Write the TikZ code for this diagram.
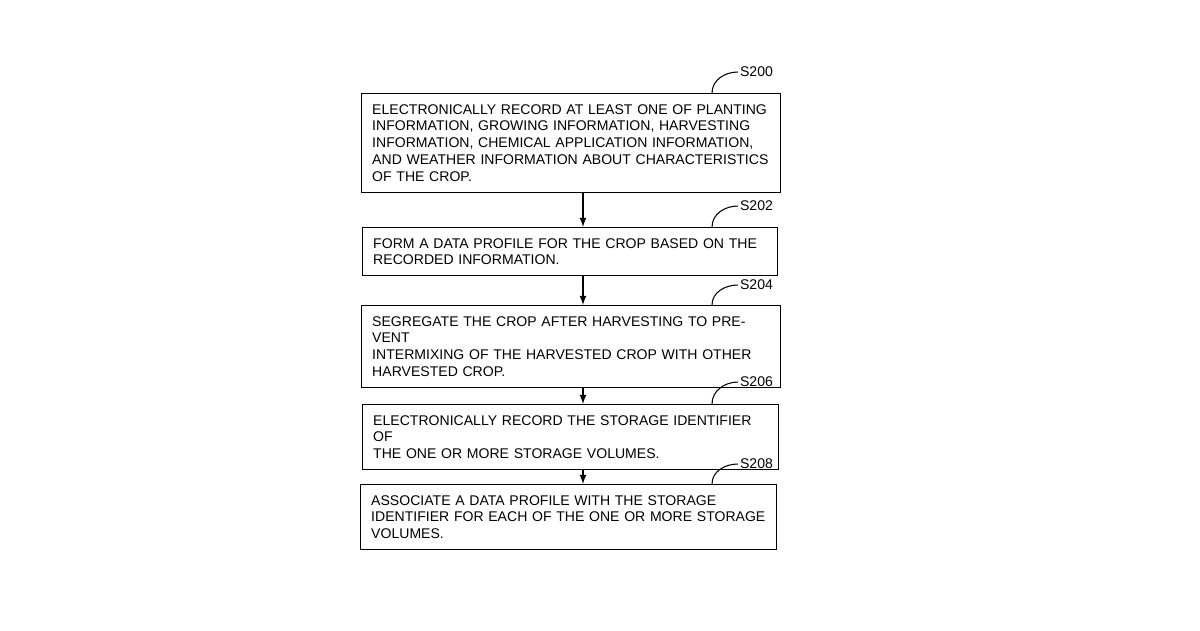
\documentclass[tikz,border=0pt]{standalone}
\usepackage{fontspec}
\setmainfont{Liberation Sans}
\usetikzlibrary{calc}
\begin{document}
\begin{tikzpicture}[x=0.02cm,y=-0.02cm]
	    \tikzstyle{stepbox}=[draw, line width=.8pt, anchor=north west, align=left, inner sep=6pt, font=\fontsize{8}{9.6}\selectfont]
	    \tikzstyle{flow}=[draw, line width=.8pt, -latex]
	    \tikzstyle{tag}=[anchor=west, inner sep=1pt, font=\fontsize{8}{9.6}\selectfont]
	    \tikzstyle{lead}=[draw, line width=.6pt]
	    \useasboundingbox (0,0) rectangle (1200,630);
	    \node[stepbox, minimum width=419*0.02cm, minimum height=94*0.02cm, text width=419*0.02cm-12pt] (s200) at (361,93) {ELECTRONICALLY RECORD AT LEAST ONE OF PLANTING\\INFORMATION, GROWING INFORMATION, HARVESTING\\INFORMATION, CHEMICAL APPLICATION INFORMATION,\\AND WEATHER INFORMATION ABOUT CHARACTERISTICS\\OF THE CROP.};
	    \node[stepbox, minimum width=415*0.02cm, minimum height=41*0.02cm, text width=415*0.02cm-12pt] (s202) at (362,227) {FORM A DATA PROFILE FOR THE CROP BASED ON THE\\RECORDED INFORMATION.};
	    \node[stepbox, minimum width=419*0.02cm, minimum height=64*0.02cm, text width=419*0.02cm-12pt] (s204) at (361,305) {SEGREGATE THE CROP AFTER HARVESTING TO PREVENT\\INTERMIXING OF THE HARVESTED CROP WITH OTHER\\HARVESTED CROP.};
	    \node[stepbox, minimum width=416*0.02cm, minimum height=41*0.02cm, text width=416*0.02cm-12pt] (s206) at (362,404) {ELECTRONICALLY RECORD THE STORAGE IDENTIFIER OF\\THE ONE OR MORE STORAGE VOLUMES.};
	    \node[stepbox, minimum width=416*0.02cm, minimum height=57*0.02cm, text width=416*0.02cm-12pt] (s208) at (360,484) {ASSOCIATE A DATA PROFILE WITH THE STORAGE\\IDENTIFIER FOR EACH OF THE ONE OR MORE STORAGE\\VOLUMES.};
	    \node[tag] (t200) at (738,72) {S200};
	    \node[tag] (t202) at (738,206) {S202};
	    \node[tag] (t204) at (738,285) {S204};
	    \node[tag] (t206) at (738,382) {S206};
	    \node[tag] (t208) at (738,464) {S208};
	    \draw[lead] (t200.west) to[out=180,in=90] (s200.north -| 712,0);
	    \draw[lead] (t202.west) to[out=180,in=90] (s202.north -| 712,0);
	    \draw[lead] (t204.west) to[out=180,in=90] (s204.north -| 712,0);
	    \draw[lead] (t206.west) to[out=180,in=90] (s206.north -| 712,0);
	    \draw[lead] (t208.west) to[out=180,in=90] (s208.north -| 712,0);
	    \draw[flow] (s200.south -| 583,0) -- (s202.north -| 583,0);
	    \draw[flow] (s202.south -| 583,0) -- (s204.north -| 583,0);
	    \draw[flow] (s204.south -| 583,0) -- (s206.north -| 583,0);
	    \draw[flow] (s206.south -| 583,0) -- (s208.north -| 583,0);
	\end{tikzpicture}
\end{document}
